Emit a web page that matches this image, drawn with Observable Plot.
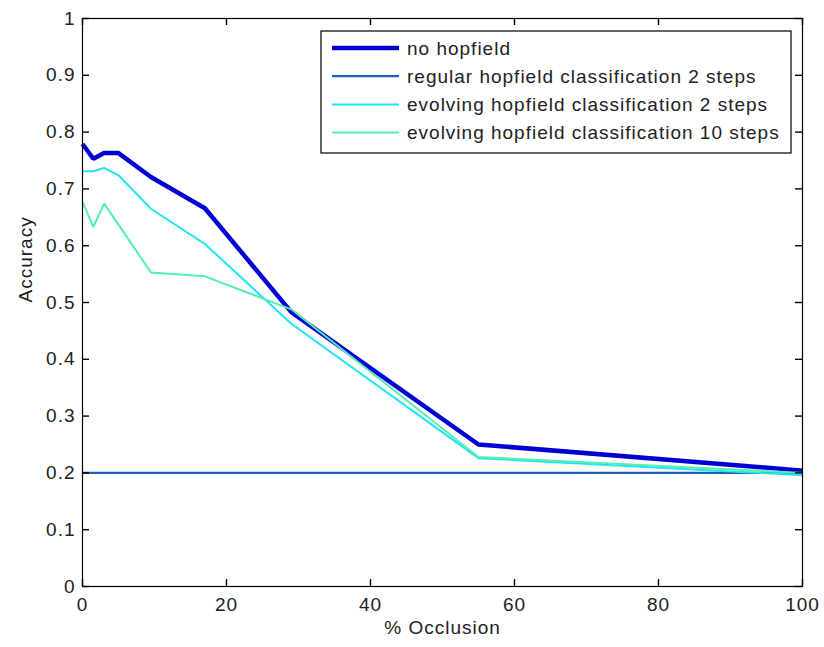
<!DOCTYPE html>
<html>
<head>
<meta charset="utf-8">
<script src="https://cdn.jsdelivr.net/npm/d3@7"></script>
<script src="https://cdn.jsdelivr.net/npm/@observablehq/plot@0.6"></script>
<style>
  html, body { margin: 0; padding: 0; background: #fff; }
  #chart { width: 824px; height: 647px; }
</style>
</head>
<body>
<div id="chart"></div>
<script>
// ---- data ----
const occlusion = [0, 1.5, 3, 5, 9.5, 17, 29, 55, 100];
const noHopfield = [0.779, 0.753, 0.763, 0.763, 0.721, 0.666, 0.483, 0.250, 0.204];
const regularHopfield2 = [0.2, 0.2, 0.2, 0.2, 0.2, 0.2, 0.2, 0.2, 0.2];
const evolvingHopfield2 = [0.731, 0.731, 0.737, 0.724, 0.665, 0.603, 0.4625, 0.226, 0.196];
const evolvingHopfield10 = [0.677, 0.633, 0.674, 0.637, 0.553, 0.546, 0.488, 0.228, 0.200];

const seriesNames = [
  "no hopfield",
  "regular hopfield classification 2 steps",
  "evolving hopfield classification 2 steps",
  "evolving hopfield classification 10 steps"
];
const seriesValues = [noHopfield, regularHopfield2, evolvingHopfield2, evolvingHopfield10];

const xTicks = [0, 20, 40, 60, 80, 100];
const xTickLabels = ["0", "20", "40", "60", "80", "100"];
const yTicks = [0, 0.1, 0.2, 0.3, 0.4, 0.5, 0.6, 0.7, 0.8, 0.9, 1];
const yTickLabels = ["0", "0.1", "0.2", "0.3", "0.4", "0.5", "0.6", "0.7", "0.8", "0.9", "1"];

const xLabel = "% Occlusion";
const yLabel = "Accuracy";

// ---- styles ----
const seriesColors = ["#0000d4", "#1f5cb6", "#1fe4f2", "#55eeb2"];
const seriesWidths = [4.5, 2.2, 2, 2];
const FONT = "'Liberation Sans', Arial, Helvetica, sans-serif";
const FS = 19;
const LS = "1px";
const TEXT = "#222";
const TICK = 7;

const rows = seriesNames.flatMap((name, s) =>
  occlusion.map((x, i) => ({x, y: seriesValues[s][i], series: name}))
);

const W = 824, H = 647;
const mL = 82, mR = 22, mT = 18, mB = 61;
const innerW = W - mL - mR, innerH = H - mT - mB;

const lineMarks = seriesNames.map((name, s) =>
  Plot.line(rows.filter(d => d.series === name), {
    x: "x", y: "y",
    stroke: seriesColors[s],
    strokeWidth: seriesWidths[s],
    strokeLinejoin: "miter",
    strokeLinecap: "butt"
  })
);

const tickStyle = {stroke: "#000", strokeWidth: 1.4};

const plot = Plot.plot({
  width: W,
  height: H,
  marginLeft: mL,
  marginRight: mR,
  marginTop: mT,
  marginBottom: mB,
  style: {fontFamily: FONT, fontSize: FS + "px", color: TEXT, background: "#fff", letterSpacing: LS},
  x: {domain: [0, 100], axis: null},
  y: {domain: [0, 1], axis: null},
  marks: [
    ...lineMarks,
    // inward ticks on all four sides (MATLAB box style)
    Plot.ruleX(xTicks, {x: d => d, insetTop: innerH - TICK, ...tickStyle}),
    Plot.ruleX(xTicks, {x: d => d, insetBottom: innerH - TICK, ...tickStyle}),
    Plot.ruleY(yTicks, {y: d => d, insetRight: innerW - TICK, ...tickStyle}),
    Plot.ruleY(yTicks, {y: d => d, insetLeft: innerW - TICK, ...tickStyle}),
    Plot.frame({stroke: "#000", strokeWidth: 1.2}),
    // tick labels
    Plot.text(xTicks, {x: d => d, frameAnchor: "bottom", lineAnchor: "top", dy: 11,
      text: (d, i) => xTickLabels[i], fontSize: FS, fill: TEXT}),
    Plot.text(yTicks, {y: d => d, frameAnchor: "left", textAnchor: "end", dx: -7,
      text: (d, i) => yTickLabels[i], fontSize: FS, fill: TEXT}),
    Plot.text([xLabel], {frameAnchor: "bottom", dy: 47, text: d => d, fontSize: FS, fill: TEXT}),
    Plot.text([yLabel], {frameAnchor: "left", dx: -57, rotate: -90, text: d => d, fontSize: FS, fill: TEXT})
  ]
});

document.getElementById("chart").appendChild(plot);

// ---- legend inside the axes (top right) ----
const svg = d3.select(plot);
const lg = svg.append("g").attr("class", "legend").attr("text-anchor", "start");
const boxX = 321, boxY = 31, boxW = 470, boxH = 122;
lg.append("rect")
  .attr("x", boxX).attr("y", boxY).attr("width", boxW).attr("height", boxH)
  .attr("fill", "#fff").attr("stroke", "#000").attr("stroke-width", 1.2);
seriesNames.forEach((name, s) => {
  const cy = boxY + 17 + s * 28.2;
  lg.append("line")
    .attr("x1", boxX + 11).attr("x2", boxX + 78)
    .attr("y1", cy).attr("y2", cy)
    .attr("stroke", seriesColors[s])
    .attr("stroke-width", seriesWidths[s]);
  lg.append("text")
    .attr("x", boxX + 86).attr("y", cy)
    .attr("dy", "0.35em")
    .attr("text-anchor", "start")
    .attr("font-family", FONT)
    .attr("font-size", FS)
    .attr("letter-spacing", LS)
    .attr("fill", TEXT)
    .text(name);
});
</script>
</body>
</html>
